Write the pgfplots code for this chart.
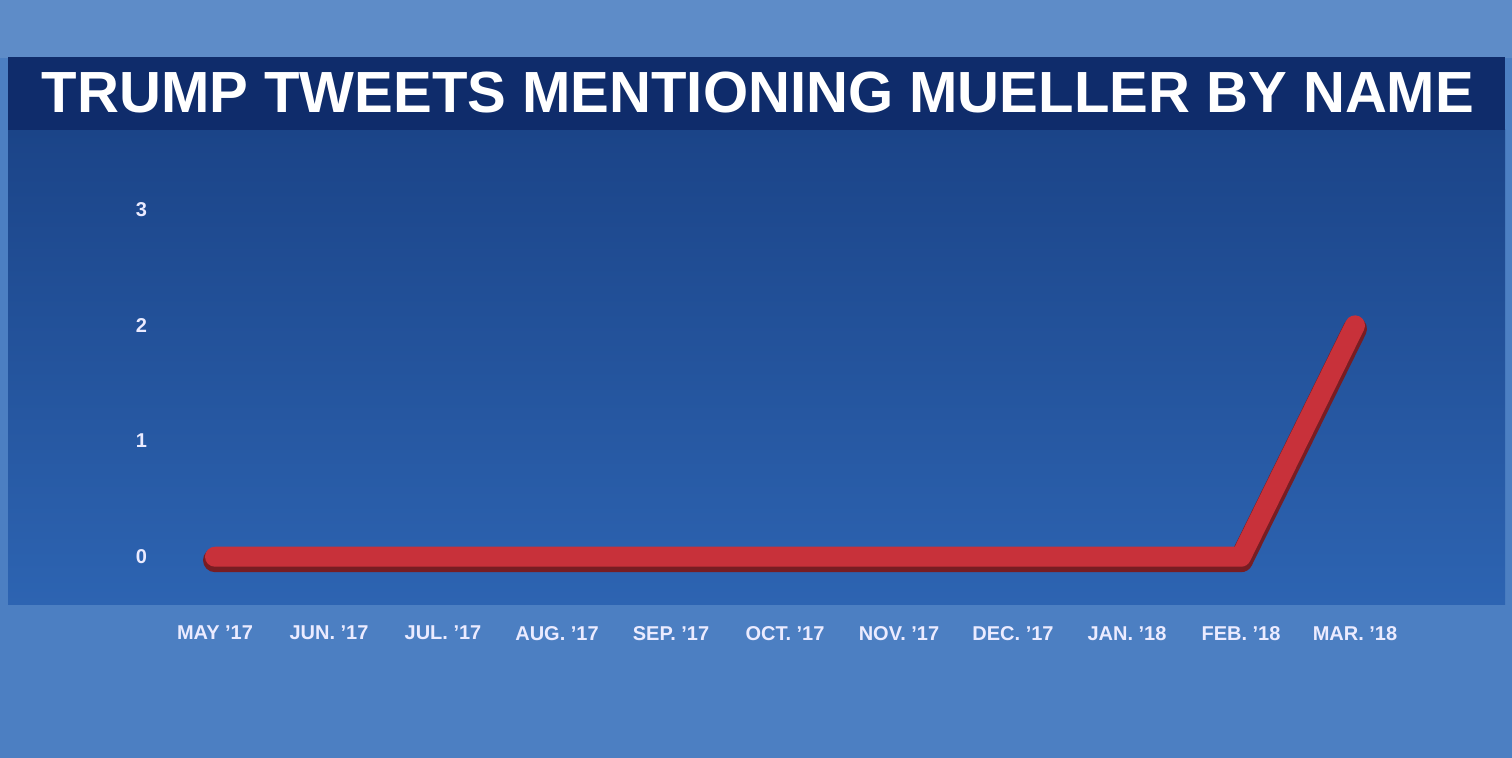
\documentclass[border=0pt]{standalone}
\usepackage{pgfplots}
\pgfplotsset{compat=1.18}
\usepackage{fontspec}
\setmainfont{Liberation Sans}
\definecolor{outer}{HTML}{4C7FC2}
\definecolor{bar}{HTML}{0F2C6B}
\definecolor{ptop}{HTML}{1B4488}
\definecolor{pbot}{HTML}{2D64B2}
\definecolor{redl}{HTML}{C8313A}
\begin{document}
\begin{tikzpicture}[x=0.5pt,y=0.5pt]
\fill[outer] (0,0) rectangle (1512,758);
\fill[outer!90!white] (0,700) rectangle (1512,758);
\shade[top color=ptop,bottom color=pbot] (8,153) rectangle (1505,628);
\fill[bar] (8,628) rectangle (1505,701);
\node[text=white,font=\bfseries] at (758,665) {\resizebox{716pt}{!}{TRUMP TWEETS MENTIONING MUELLER BY NAME}};
\begin{axis}[at={(79pt,77.5pt)},anchor=south west,scale only axis,
 width=627pt,height=214pt,
 xmin=-0.5,xmax=10.5,ymin=-0.4,ymax=3.3,
 axis line style={draw=none},tick style={draw=none},
 xtick={0,...,10},
 xticklabels={MAY '17,JUN. '17,JUL. '17,AUG. '17,SEP. '17,OCT. '17,NOV. '17,DEC. '17,JAN. '18,FEB. '18,MAR. '18},
 ytick={0,1,2,3},
 /pgf/number format/assume math mode=true,
 ticklabel style={text=white!92!blue,font=\bfseries\fontsize{10}{12}\selectfont},
 xticklabel style={yshift=-8pt},
 yticklabel style={xshift=-2pt},
 ]
\addplot[line width=12pt,color=redl!60!black,line cap=round,line join=round] coordinates {(0,-0.03)(1,-0.03)(2,-0.03)(3,-0.03)(4,-0.03)(5,-0.03)(6,-0.03)(7,-0.03)(8,-0.03)(9,-0.03)(10,1.97)};
\addplot[line width=10pt,color=redl,line cap=round,line join=round] coordinates {(0,0)(1,0)(2,0)(3,0)(4,0)(5,0)(6,0)(7,0)(8,0)(9,0)(10,2)};
\end{axis}
\end{tikzpicture}
\end{document}
